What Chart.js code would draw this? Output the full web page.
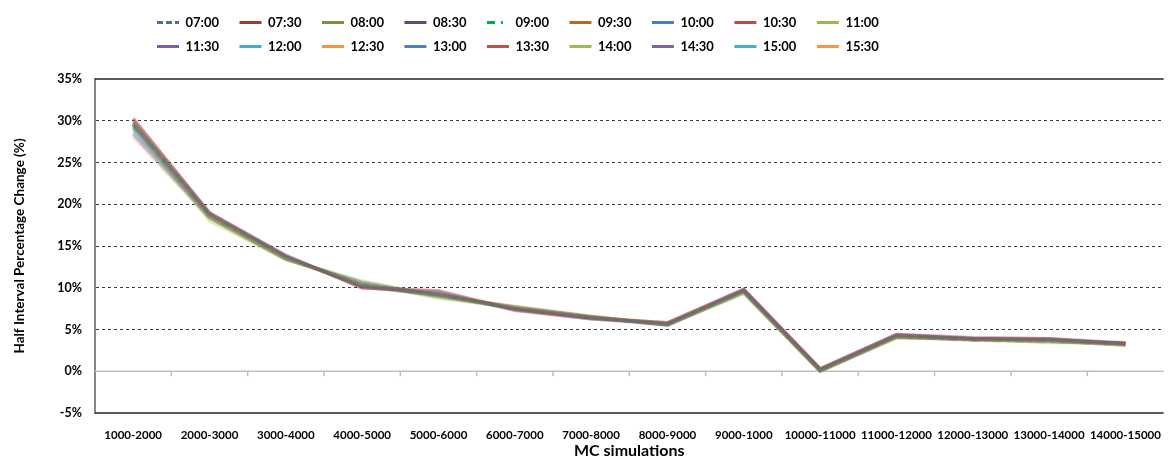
<!DOCTYPE html>
<html>
<head>
<meta charset="utf-8">
<title>Half Interval Percentage Change</title>
<script src="https://cdn.jsdelivr.net/npm/chart.js@4.4.0/dist/chart.umd.min.js"></script>
<style>
  html, body { margin: 0; padding: 0; background: #ffffff; }
  #wrap { width: 1176px; height: 459px; }
</style>
</head>
<body>
<div id="wrap"><canvas id="hiChart" width="1176" height="459"></canvas></div>
<script>
// x categories (MC simulation ranges)
const categories = ['1000-2000', '2000-3000', '3000-4000', '4000-5000', '5000-6000', '6000-7000',
    '7000-8000', '8000-9000', '9000-1000', '10000-11000', '11000-12000', '12000-13000',
    '13000-14000', '14000-15000'];

// y axis ticks (percent)
const yTickValues = [-5, 0, 5, 10, 15, 20, 25, 30, 35];

// series names (time of day)
const seriesNames = ['07:00', '07:30', '08:00', '08:30', '09:00', '09:30', '10:00', '10:30', '11:00',
    '11:30', '12:00', '12:30', '13:00', '13:30', '14:00', '14:30', '15:00', '15:30'];

// half interval percentage change (%)
const s0700 = [29.6, 18.9, 13.7, 10.2, 9.3, 7.5, 6.4, 5.7, 9.7, 0.2, 4.2, 3.9, 3.7, 3.3];
const s0730 = [30.3, 19.0, 13.9, 10.0, 9.6, 7.4, 6.4, 5.8, 9.8, 0.3, 4.4, 3.9, 3.9, 3.3];
const s0800 = [29.9, 18.8, 13.6, 10.3, 9.0, 7.6, 6.5, 5.6, 9.5, 0.1, 4.2, 3.8, 3.7, 3.2];
const s0830 = [29.7, 18.9, 13.8, 10.1, 9.2, 7.4, 6.3, 5.6, 9.7, 0.2, 4.3, 3.9, 3.8, 3.3];
const s0900 = [29.4, 18.6, 13.6, 10.4, 9.1, 7.5, 6.4, 5.6, 9.6, 0.1, 4.2, 3.7, 3.6, 3.2];
const s0930 = [29.2, 18.5, 13.5, 10.4, 9.2, 7.6, 6.5, 5.7, 9.6, 0.1, 4.1, 3.8, 3.7, 3.1];
const s1000 = [29.5, 18.8, 13.7, 10.2, 9.3, 7.5, 6.4, 5.7, 9.7, 0.2, 4.3, 3.9, 3.8, 3.3];
const s1030 = [30.1, 18.9, 13.8, 10.0, 9.5, 7.3, 6.3, 5.8, 9.8, 0.3, 4.4, 4.0, 3.9, 3.3];
const s1100 = [29.8, 18.4, 13.5, 10.5, 8.8, 7.6, 6.5, 5.6, 9.4, 0.0, 4.1, 3.8, 3.6, 3.2];
const s1130 = [29.6, 18.7, 13.7, 10.2, 9.1, 7.5, 6.4, 5.6, 9.6, 0.1, 4.2, 3.9, 3.8, 3.3];
const s1200 = [28.9, 18.5, 13.5, 10.5, 9.1, 7.6, 6.5, 5.6, 9.5, 0.1, 4.1, 3.8, 3.6, 3.3];
const s1230 = [29.3, 18.4, 13.4, 10.4, 9.0, 7.7, 6.5, 5.7, 9.5, 0.1, 4.1, 3.7, 3.6, 3.1];
const s1300 = [29.1, 18.6, 13.6, 10.3, 9.2, 7.5, 6.4, 5.6, 9.6, 0.1, 4.2, 3.9, 3.7, 3.3];
const s1330 = [30.2, 18.9, 13.8, 10.0, 9.6, 7.3, 6.3, 5.8, 9.8, 0.3, 4.4, 4.0, 3.9, 3.4];
const s1400 = [29.7, 18.0, 13.4, 10.6, 8.8, 7.6, 6.5, 5.6, 9.3, 0.0, 4.0, 3.8, 3.6, 3.2];
const s1430 = [28.4, 18.5, 13.5, 10.6, 9.0, 7.7, 6.5, 5.5, 9.5, 0.0, 4.1, 3.8, 3.6, 3.4];
const s1500 = [28.6, 18.4, 13.4, 10.7, 9.0, 7.7, 6.6, 5.5, 9.4, 0.0, 4.1, 3.9, 3.5, 3.4];
const s1530 = [28.1, 18.3, 13.4, 10.8, 9.0, 7.8, 6.6, 5.5, 9.4, 0.0, 4.0, 3.9, 3.4, 3.4];

const seriesValues = [s0700, s0730, s0800, s0830, s0900, s0930, s1000, s1030, s1100,
    s1130, s1200, s1230, s1300, s1330, s1400, s1430, s1500, s1530];

// Excel style colours, one per series
const lineColors = ['#4A6FA5', '#9E3B38', '#77933C', '#5F497A', '#00B050', '#B7692D', '#4A7EBB', '#BE4B48', '#98B954',
    '#7D60A0', '#46AAC5', '#F69240', '#4F81BD', '#C0504D', '#9BBB59', '#8064A2', '#4BACC6', '#F79646'];

// dash patterns (07:00 dashed, 09:00 dash-dot)
const lineDashes = { '07:00': [6, 3], '09:00': [8, 6, 2, 6] };

function withAlpha(hex, a) {
    const n = parseInt(hex.slice(1), 16);
    return 'rgba(' + (n >> 16) + ',' + ((n >> 8) & 255) + ',' + (n & 255) + ',' + a + ')';
}

const datasets = seriesNames.map((name, i) => ({
    label: name,
    data: seriesValues[i],
    borderColor: withAlpha(lineColors[i], 0.3),
    backgroundColor: lineColors[i],
    borderWidth: 3.5,
    borderDash: lineDashes[name] || [],
    pointRadius: 0,
    pointHoverRadius: 0,
    tension: 0,
    fill: false
}));

// legend geometry (Excel puts it left of centre, 9 items per row, ~84px apart)
const legendLeft = 146;
const legendRight = 940;
const legendFont = 'bold 13px Lato';
const legendTextWidth = 44;

// zero line with category tick marks, plus top/bottom frame of the plot area
const excelFrame = {
    id: 'excelFrame',
    beforeUpdate(chart) {
        // extra room under the legend
        if (chart.legend && !chart.legend._patched) {
            const origFit = chart.legend.fit;
            chart.legend.fit = function () {
                this.maxWidth = legendRight - legendLeft;
                origFit.call(this);
                this.height += 16;
            };
            chart.legend._patched = true;
        }
    },
    afterLayout(chart) {
        const lg = chart.legend;
        if (lg) {
            lg.left = legendLeft;
            lg.right = legendRight;
            lg.width = legendRight - legendLeft;
        }
    },
    beforeDatasetsDraw(chart) {
        const { ctx, chartArea: a, scales: { x, y } } = chart;
        const y0 = y.getPixelForValue(0);
        ctx.save();
        ctx.strokeStyle = '#BFBFBF';
        ctx.lineWidth = 1.5;
        ctx.beginPath();
        ctx.moveTo(a.left, y0);
        ctx.lineTo(a.right, y0);
        for (let i = 1; i < categories.length; i++) {
            const xb = (x.getPixelForValue(i - 1) + x.getPixelForValue(i)) / 2;
            ctx.moveTo(xb, y0);
            ctx.lineTo(xb, y0 + 5);
        }
        ctx.stroke();

        ctx.strokeStyle = '#262626';
        ctx.lineWidth = 1.5;
        ctx.beginPath();
        ctx.moveTo(a.left, a.top);
        ctx.lineTo(a.right, a.top);
        ctx.moveTo(a.left, a.bottom);
        ctx.lineTo(a.right, a.bottom);
        ctx.stroke();
        ctx.restore();
    }
};

const hiChart = new Chart(document.getElementById('hiChart'), {
    type: 'line',
    data: {
        labels: categories,
        datasets: datasets
    },
    options: {
        responsive: false,
        animation: false,
        devicePixelRatio: 1,
        layout: {
            padding: { top: 5, right: 2, bottom: 0, left: 0 }
        },
        plugins: {
            legend: {
                position: 'top',
                align: 'start',
                labels: {
                    usePointStyle: true,
                    pointStyle: 'line',
                    pointStyleWidth: 22,
                    padding: 11,
                    color: '#000000',
                    font: { family: 'Lato', size: 13, weight: 'bold' },
                    generateLabels(chart) {
                        const items = Chart.defaults.plugins.legend.labels.generateLabels(chart);
                        const ctx = chart.ctx;
                        ctx.save();
                        ctx.font = legendFont;
                        items.forEach((it, i) => {
                            it.strokeStyle = lineColors[i];
                            it.fillStyle = lineColors[i];
                            it.lineWidth = 3;
                            it.lineDash = datasets[i].borderDash;
                            // pad with spaces so every item takes the same room
                            let txt = it.text;
                            while (ctx.measureText(txt + ' ').width <= legendTextWidth) txt += ' ';
                            it.text = txt;
                        });
                        ctx.restore();
                        return items;
                    }
                }
            },
            tooltip: { enabled: false }
        },
        scales: {
            x: {
                offset: true,
                grid: { display: false, drawTicks: false },
                border: { display: false },
                ticks: {
                    autoSkip: false,
                    maxRotation: 0,
                    padding: 15,
                    color: '#000000',
                    font: { family: 'Lato', size: 11.5, weight: 'bold' }
                },
                title: {
                    display: true,
                    text: 'MC simulations',
                    color: '#000000',
                    padding: { top: 0, bottom: 0 },
                    font: { family: 'Lato', size: 16, weight: 'bold', lineHeight: 1 }
                },
                afterFit(scale) {
                    scale.height = 46;
                }
            },
            y: {
                min: yTickValues[0],
                max: yTickValues[yTickValues.length - 1],
                ticks: {
                    stepSize: yTickValues[1] - yTickValues[0],
                    padding: 13,
                    color: '#000000',
                    font: { family: 'Lato', size: 12.5, weight: 'bold' },
                    callback: v => v + '%'
                },
                grid: {
                    drawTicks: false,
                    lineWidth: 1,
                    color: c => (c.tick.value === 0 || c.tick.value === yTickValues[0] ||
                        c.tick.value === yTickValues[yTickValues.length - 1]) ? 'rgba(0,0,0,0)' : '#3a3a3a'
                },
                border: { display: true, color: '#868686', width: 2, dash: [3, 3] },
                title: {
                    display: true,
                    text: 'Half Interval Percentage Change (%)',
                    color: '#000000',
                    padding: { top: 12, bottom: 0 },
                    font: { family: 'Lato', size: 13.5, weight: 'bold' }
                },
                afterFit(scale) {
                    scale.width = 95;
                }
            }
        }
    },
    plugins: [excelFrame]
});
</script>
</body>
</html>
